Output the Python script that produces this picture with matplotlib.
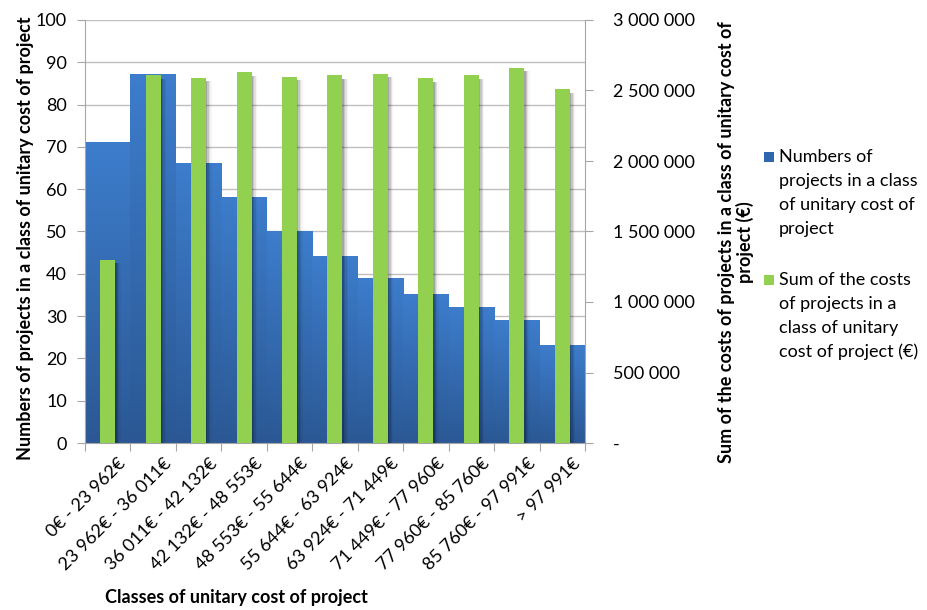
import matplotlib
matplotlib.use('Agg')
import matplotlib.pyplot as plt
import numpy as np
from matplotlib.colors import LinearSegmentedColormap
from matplotlib.patches import Rectangle
from matplotlib.ticker import FuncFormatter
import matplotlib.transforms as mtransforms

categories = ["0€ - 23 962€", "23 962€ - 36 011€", "36 011€ - 42 132€",
              "42 132€ - 48 553€", "48 553€ - 55 644€", "55 644€ - 63 924€",
              "63 924€ - 71 449€", "71 449€ - 77 960€", "77 960€ - 85 760€",
              "85 760€ - 97 991€", "> 97 991€"]
project_counts = [71, 87, 66, 58, 50, 44, 39, 35, 32, 29, 23]
project_costs = [1300000, 2610000, 2590000, 2630000, 2598000, 2610000,
                 2618000, 2586000, 2610000, 2663000, 2508000]
left_ticks = list(range(0, 101, 10))
right_ticks = list(range(0, 3000001, 500000))
count_axis_label = "Numbers of projects in a class of unitary cost of project"
cost_axis_label = "Sum of the costs of projects in a class of unitary cost of\nproject (€)"
x_title = "Classes of unitary cost of project"
legend_count = ["Numbers of", "projects in a class", "of unitary cost of", "project"]
legend_cost = ["Sum of the costs", "of projects in a", "class of unitary", "cost of project (€)"]

plt.rcParams['font.family'] = ['Lato', 'DejaVu Sans']
FS = 13
BLUE_TOP = '#3D7DCC'
BLUE_BOT = '#2B5894'
GREEN = '#92D050'
GRID = '#BFBFBF'
AXC = '#A6A6A6'

W, H = 927, 610
fig = plt.figure(figsize=(W / 100, H / 100), dpi=100)
ax = fig.add_axes([85 / W, 1 - 443 / H, 500 / W, 423 / H])

x = np.arange(len(categories))
bars = ax.bar(x, project_counts, width=1.0, color=BLUE_TOP, linewidth=0, zorder=2)
cmap = LinearSegmentedColormap.from_list('b', [BLUE_BOT, BLUE_TOP])
grad = np.linspace(0, 1, 256).reshape(-1, 1)
for p in bars:
    x0, w, h = p.get_x(), p.get_width(), p.get_height()
    ax.imshow(grad, extent=[x0, x0 + w, 0, h], origin='lower', aspect='auto',
              cmap=cmap, zorder=2.1, interpolation='bilinear')

ax.set_xlim(-0.5, len(categories) - 0.5)
ax.set_ylim(0, 100)
ax.set_yticks(left_ticks)
ax.yaxis.grid(True, color=GRID, lw=1.0)
ax.set_axisbelow(True)
for s in ['top', 'right']:
    ax.spines[s].set_visible(False)
for s in ['left', 'bottom']:
    ax.spines[s].set_color(AXC)
ax.tick_params(axis='y', direction='out', length=6, color=AXC, pad=7, labelsize=FS)

ax.set_xticks(np.arange(-0.5, len(categories), 1.0))
ax.set_xticklabels([])
ax.tick_params(axis='x', which='major', direction='out', length=6, color=AXC)
ax.set_xticks(x, minor=True)
ax.set_xticklabels(categories, minor=True, rotation=45, ha='right',
                   rotation_mode='anchor', fontsize=FS)
ax.tick_params(axis='x', which='minor', length=0, pad=9)
offset = mtransforms.ScaledTranslation(10 / 100, 0, fig.dpi_scale_trans)
for lbl in ax.get_xticklabels(minor=True):
    lbl.set_transform(lbl.get_transform() + offset)

ax2 = ax.twinx()
costs = np.array(project_costs, dtype=float)
gw = 0.33
for off, a in [(0.03, 0.16), (0.06, 0.12), (0.09, 0.08), (0.12, 0.04)]:
    ax2.bar(x + off, costs - 25000, width=gw, color='black', alpha=a,
            linewidth=0, zorder=2)
ax2.bar(x, costs, width=gw, color=GREEN, linewidth=0, zorder=3)
ax2.set_ylim(0, 3000000)
ax2.set_yticks(right_ticks)
ax2.yaxis.set_major_formatter(FuncFormatter(
    lambda v, p: '-' if v == 0 else f"{int(v):,}".replace(',', ' ')))
for s in ['top', 'left', 'bottom']:
    ax2.spines[s].set_visible(False)
ax2.spines['right'].set_color(AXC)
ax2.tick_params(axis='y', direction='out', length=6, color=AXC, pad=14, labelsize=FS)

fig.text(26 / W, 1 - 238 / H, count_axis_label, rotation=90, ha='center',
         va='center', fontsize=FS, fontweight='bold')
fig.text(736 / W, 1 - 242 / H, cost_axis_label, rotation=90, ha='center',
         va='center', fontsize=FS, fontweight='bold', multialignment='center',
         linespacing=1.05)
fig.text(236 / W, 1 - 597 / H, x_title, ha='center', va='center',
         fontsize=FS, fontweight='bold')

def legend_entry(y0, color, lines):
    fig.patches.append(Rectangle((764 / W, 1 - (y0 + 5) / H), 10 / W, 10 / H,
                                 transform=fig.transFigure, facecolor=color,
                                 edgecolor='none'))
    for i, t in enumerate(lines):
        fig.text(779 / W, 1 - (y0 + 24 * i) / H, t, ha='left', va='center',
                 fontsize=FS)

legend_entry(157, '#2F66AE', legend_count)
legend_entry(280, GREEN, legend_cost)

fig.savefig('out.png', dpi=100)
